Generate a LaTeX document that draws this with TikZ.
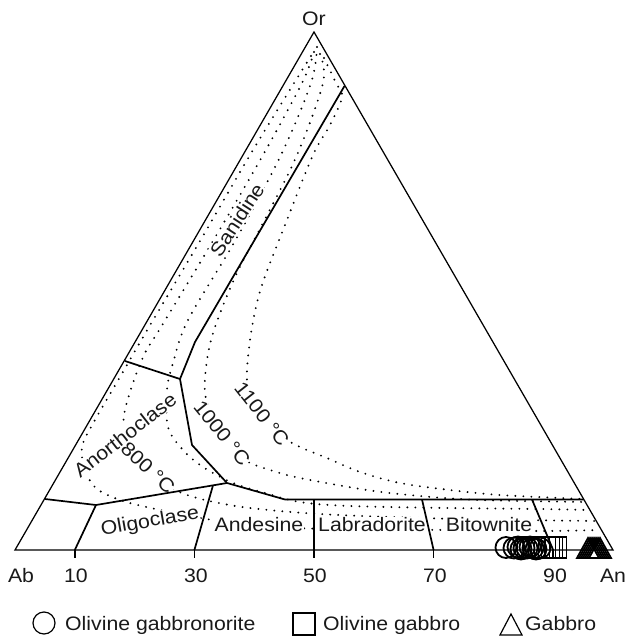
\documentclass[tikz,border=0pt]{standalone}
\usepackage{fontspec}
\setmainfont{Liberation Sans}[FakeStretch=1.09]
\usetikzlibrary{calc}
\begin{document}
\begin{tikzpicture}[x=1pt,y=-1pt,font=\fontsize{19.5}{22}\selectfont,
  triside/.style={line width=1.25pt,line join=miter},
  bound/.style={line width=1.7pt,line join=round},
  iso/.style={line width=2.1pt,line cap=round,dash pattern=on 0pt off 8pt},
  field/.style={fill=white,inner sep=0.8pt,text=black!90},
  ax/.style={anchor=base,inner sep=0pt,text=black!90},
  mk/.style={line width=1.8pt},
  lgmk/.style={line width=1.2pt}]
\useasboundingbox (0,0) rectangle (626,638);
% vertices
\coordinate (Ab) at (15,550);
\coordinate (An) at (613,550);
\coordinate (Or) at (314,32);
% boundary junctions
\coordinate (A1) at (125,361);
\coordinate (A2) at (180,379);
\coordinate (A3) at (195,342);
\coordinate (A4) at (344.5,86);
\coordinate (A5) at (192,445);
\coordinate (A6) at (227,483);
\coordinate (A7) at (285,499.5);
\coordinate (A8) at (583.5,499.5);
\coordinate (B1) at (45,499);
\coordinate (B2) at (96,505);
\coordinate (B3) at (213,485.4);
\coordinate (P10) at (74.8,550);
\coordinate (P30) at (194.4,550);
\coordinate (P50) at (314,550);
\coordinate (P70) at (433.6,550);
\coordinate (P90) at (553.2,550);
\coordinate (Q50) at (314,499.5);
\coordinate (Q70) at (422,499.5);
\coordinate (Q90) at (532,499.5);
\foreach \p in {10,30,50,70,90}{\coordinate (T\p) at ($(P\p)+(0,8)$);}

% isotherms (dotted)
\draw[iso] plot[smooth,tension=0.55] coordinates {(311,56) (291,88) (250,155) (200,241) (149,327) (120,377) (95,420) (82,447) (86,472) (97,489) (123,501) (160,510) (200,518) (260,526) (330,529) (450,530) (540,531) (600,530)};
\draw[iso] plot[smooth,tension=0.55] coordinates {(314,52) (302,83) (263,155) (213,241) (161,327) (145,353) (133,383) (124,415) (126,434) (138,455) (156,475) (175,490) (205,500) (250,508) (320,514) (420,518) (520,520) (596,521)};
\draw[iso] plot[smooth,tension=0.55] coordinates {(317,47) (311,83) (281,155) (235,241) (188,320) (173,363) (167,390) (168,427) (183,450) (203,467) (233,483) (265,493) (300,502) (350,506) (450,508) (540,509) (590,510)};
\draw[iso] plot[smooth,tension=0.55] coordinates {(320,54) (323,83) (297,155) (262,225) (236,275) (215,327) (207,360) (205,393) (213,416) (228,440) (245,460) (270,470) (300,478) (367,490) (420,496) (480,500) (585,502)};
\draw[iso] plot[smooth,tension=0.55] coordinates {(324,58) (336,83) (342,97) (330,125) (313,155) (285,225) (262,285) (252,327) (247,370) (249,390) (262,414) (280,435) (300,447) (327,458) (360,472) (400,483) (450,490) (500,495) (583,499)};

% labels with white background
\node[field,rotate=57] (san) at (237,220) {Sanidine};
\node[field,rotate=38] (ano) at (125,435) {Anorthoclase};
\node[field,rotate=10] (oli) at (150,522) {Oligoclase};
\node[field] (and) at (259,525) {Andesine};
\node[field] (lab) at (372,525) {Labradorite};
\node[field] (bit) at (489,525) {Bitownite};
\node[field,rotate=-43] (t800) at (148,468) {800 °C};
\node[field,rotate=-51] (t1000) at (222,433) {1000 °C};
\node[field,rotate=-52] (t1100) at (262,414) {1100 °C};

% field boundaries
\draw[bound] (A1) -- (A2) -- (A3) -- (A4);
\draw[bound] (A2) -- (A5) -- (A6) -- (A7) -- (A8);
\draw[bound] (B1) -- (B2) -- (A6);
\draw[bound] (B2) -- (P10);
\draw[bound] (B3) -- (P30);
\draw[bound] (Q50) -- (P50);
\draw[bound] (Q70) -- (P70);
\draw[bound] (Q90) -- (P90);
\foreach \p in {10,30,50,70,90}{\draw[bound] (P\p) -- (T\p);}

% triangle
\draw[triside] (Ab) -- (An) -- (Or) -- cycle;

% axis labels
\node[ax] (lOr) at (314,25) {Or};
\node[ax] (lAb) at (21,582) {Ab};
\node[ax] (lAn) at (613,582) {An};
\node[ax] (l10) at (76,582) {10};
\node[ax] (l30) at (196,582) {30};
\node[ax] (l50) at (315,582) {50};
\node[ax] (l70) at (435,582) {70};
\node[ax] (l90) at (555,582) {90};

% data
\foreach \x/\y in {506/547.5,514/548,518/547,521/549,524/548,527/548,530/547,533/548,536/549,540/548}
  \draw[mk] (\x,\y) circle[radius=10.5pt];
\foreach \x in {528,534,539,545,549,552,556}
  \draw[mk] (\x-10.5,537) rectangle (\x+10.5,558);
\foreach \x in {588,590,592,594,596,598,600}
  \draw[mk] (\x-11,558) -- (\x+11,558) -- (\x,538) -- cycle;

% legend
\draw[lgmk] (44,623) circle[radius=11pt];
\node[ax,anchor=base west] (lg1) at (65,630) {Olivine gabbronorite};
\draw[lgmk] (293,613) rectangle (315,635);
\node[ax,anchor=base west] (lg2) at (323,630) {Olivine gabbro};
\draw[lgmk] (500,635) -- (522,635) -- (511,614) -- cycle;
\node[ax,anchor=base west] (lg3) at (525,630) {Gabbro};
\end{tikzpicture}
\end{document}
